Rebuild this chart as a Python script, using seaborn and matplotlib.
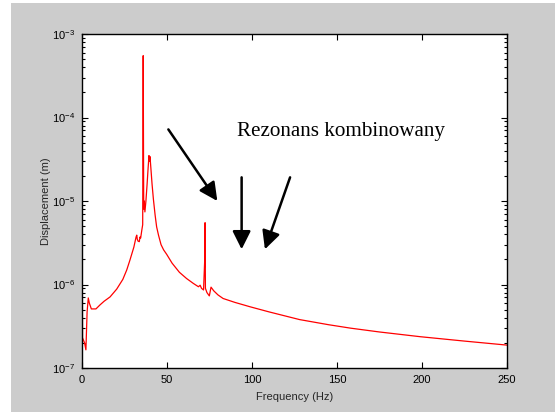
import matplotlib
matplotlib.use("Agg")
import matplotlib.pyplot as plt
from matplotlib.patches import Rectangle
import matplotlib.ticker as mticker
import seaborn as sns
import pandas as pd

# ---- data ----
freq_hz = [0, 0.3, 1.5, 2.3, 3.0, 3.7, 4.3, 5.5, 8.2, 10.6, 13.0, 16.5, 20.4, 24.0,
           26.3, 28.2, 30.5, 31.8, 32.2, 32.5, 33.0, 33.7, 34.1, 34.5, 35.2, 35.7,
           36.0, 36.15, 36.3, 36.6, 37.0, 37.6, 38.3, 38.9, 39.4, 39.7, 40.0, 40.5,
           41.2, 42.0, 43.0, 43.9, 45.0, 46.5, 48.0, 49.8, 53.0, 57.3, 61.5, 65.5,
           68.5, 69.5, 70.3, 71.5, 72.2, 72.4, 72.6, 73.5, 74.9, 75.9, 77.5, 80.0,
           83.0, 90.0, 99.0, 110.0, 128.0, 145.0, 158.0, 175.0, 199.0, 225.0, 250.0]
displacement_m = [2.6e-5, 2.3e-7, 2.0e-7, 1.65e-7, 4.7e-7, 6.9e-7, 6.0e-7, 5.1e-7, 5.1e-7,
                  5.7e-7, 6.3e-7, 7.1e-7, 8.8e-7, 1.15e-6, 1.49e-6, 1.96e-6, 2.8e-6,
                  3.7e-6, 3.9e-6, 3.5e-6, 3.3e-6, 3.26e-6, 3.7e-6, 3.6e-6, 4.5e-6, 5.2e-6,
                  5.5e-4, 6.0e-5, 8.0e-6, 1.0e-5, 7.4e-6, 1.0e-5, 1.6e-5, 2.5e-5, 3.5e-5,
                  3.0e-5, 3.4e-5, 2.5e-5, 1.6e-5, 1.05e-5, 6.8e-6, 4.9e-6, 3.9e-6, 3.0e-6,
                  2.6e-6, 2.3e-6, 1.8e-6, 1.4e-6, 1.18e-6, 1.03e-6, 9.4e-7, 9.8e-7, 9.0e-7,
                  8.6e-7, 2.0e-6, 5.5e-6, 9.0e-7, 8.0e-7, 7.3e-7, 9.3e-7, 8.4e-7, 7.5e-7,
                  6.8e-7, 6.1e-7, 5.4e-7, 4.7e-7, 3.8e-7, 3.3e-7, 3.0e-7, 2.7e-7,
                  2.37e-7, 2.1e-7, 1.88e-7]
x_ticks = [0, 50, 100, 150, 200, 250]
x_label = "Frequency (Hz)"
y_label = "Displacement (m)"
annotation_text = "Rezonans kombinowany"
# arrows: (tail_x, tail_y, tip_x, tip_y) in data units
arrows = [(50.8, 7.2e-5, 79.6, 1.0e-5),
          (93.9, 1.92e-5, 93.9, 2.64e-6),
          (122.4, 1.92e-5, 107.6, 2.64e-6)]

df = pd.DataFrame({"f": freq_hz, "d": displacement_m})

sns.set_style("ticks")
plt.rcParams["font.family"] = ["Liberation Sans", "DejaVu Sans"]
plt.rcParams["mathtext.fontset"] = "custom"
plt.rcParams["mathtext.rm"] = "Liberation Sans"
plt.rcParams["mathtext.it"] = "Liberation Sans"

fig = plt.figure(figsize=(5.55, 4.12), dpi=100)
fig.patch.set_facecolor("white")
fig.add_artist(Rectangle((11 / 555, 0), 544 / 555, 409 / 412, transform=fig.transFigure,
                         facecolor="#cccccc", edgecolor="none", zorder=-10))

ax = fig.add_axes([82 / 555, 44 / 412, 425 / 555, 334 / 412])
ax.set_facecolor("white")

sns.lineplot(data=df, x="f", y="d", ax=ax, color="red", linewidth=0.9,
             estimator=None, sort=False)

ax.set_yscale("log")
ax.set_xlim(0, 250)
ax.set_ylim(1e-7, 1e-3)
ax.set_xticks(x_ticks)
ax.xaxis.set_minor_locator(mticker.NullLocator())
ax.yaxis.set_major_locator(mticker.LogLocator(base=10, numticks=10))
ax.yaxis.set_minor_locator(mticker.LogLocator(base=10, subs=range(2, 10), numticks=10))
ax.yaxis.set_minor_formatter(mticker.NullFormatter())

for s in ax.spines.values():
    s.set_visible(True)
    s.set_color("black")
    s.set_linewidth(1.0)

ax.tick_params(which="both", direction="in", top=True, right=True, colors="black",
               labelsize=8, width=0.8)
ax.tick_params(which="major", length=4, pad=5)
ax.tick_params(which="minor", length=2.5)

ax.set_xlabel(x_label, fontsize=8, labelpad=5)
ax.set_ylabel(y_label, fontsize=8, labelpad=1)

for tx, ty, hx, hy in arrows:
    ax.annotate("", xy=(hx, hy), xytext=(tx, ty),
                arrowprops=dict(arrowstyle="-|>,head_length=1.0,head_width=0.5",
                                lw=1.8, color="black", mutation_scale=11,
                                shrinkA=0, shrinkB=0))

ax.text(91.2, 6.0e-5, annotation_text, fontfamily="Liberation Serif", fontsize=15.2,
        ha="left", va="baseline", color="black")

fig.savefig("out.png", dpi=100, facecolor=fig.get_facecolor())
